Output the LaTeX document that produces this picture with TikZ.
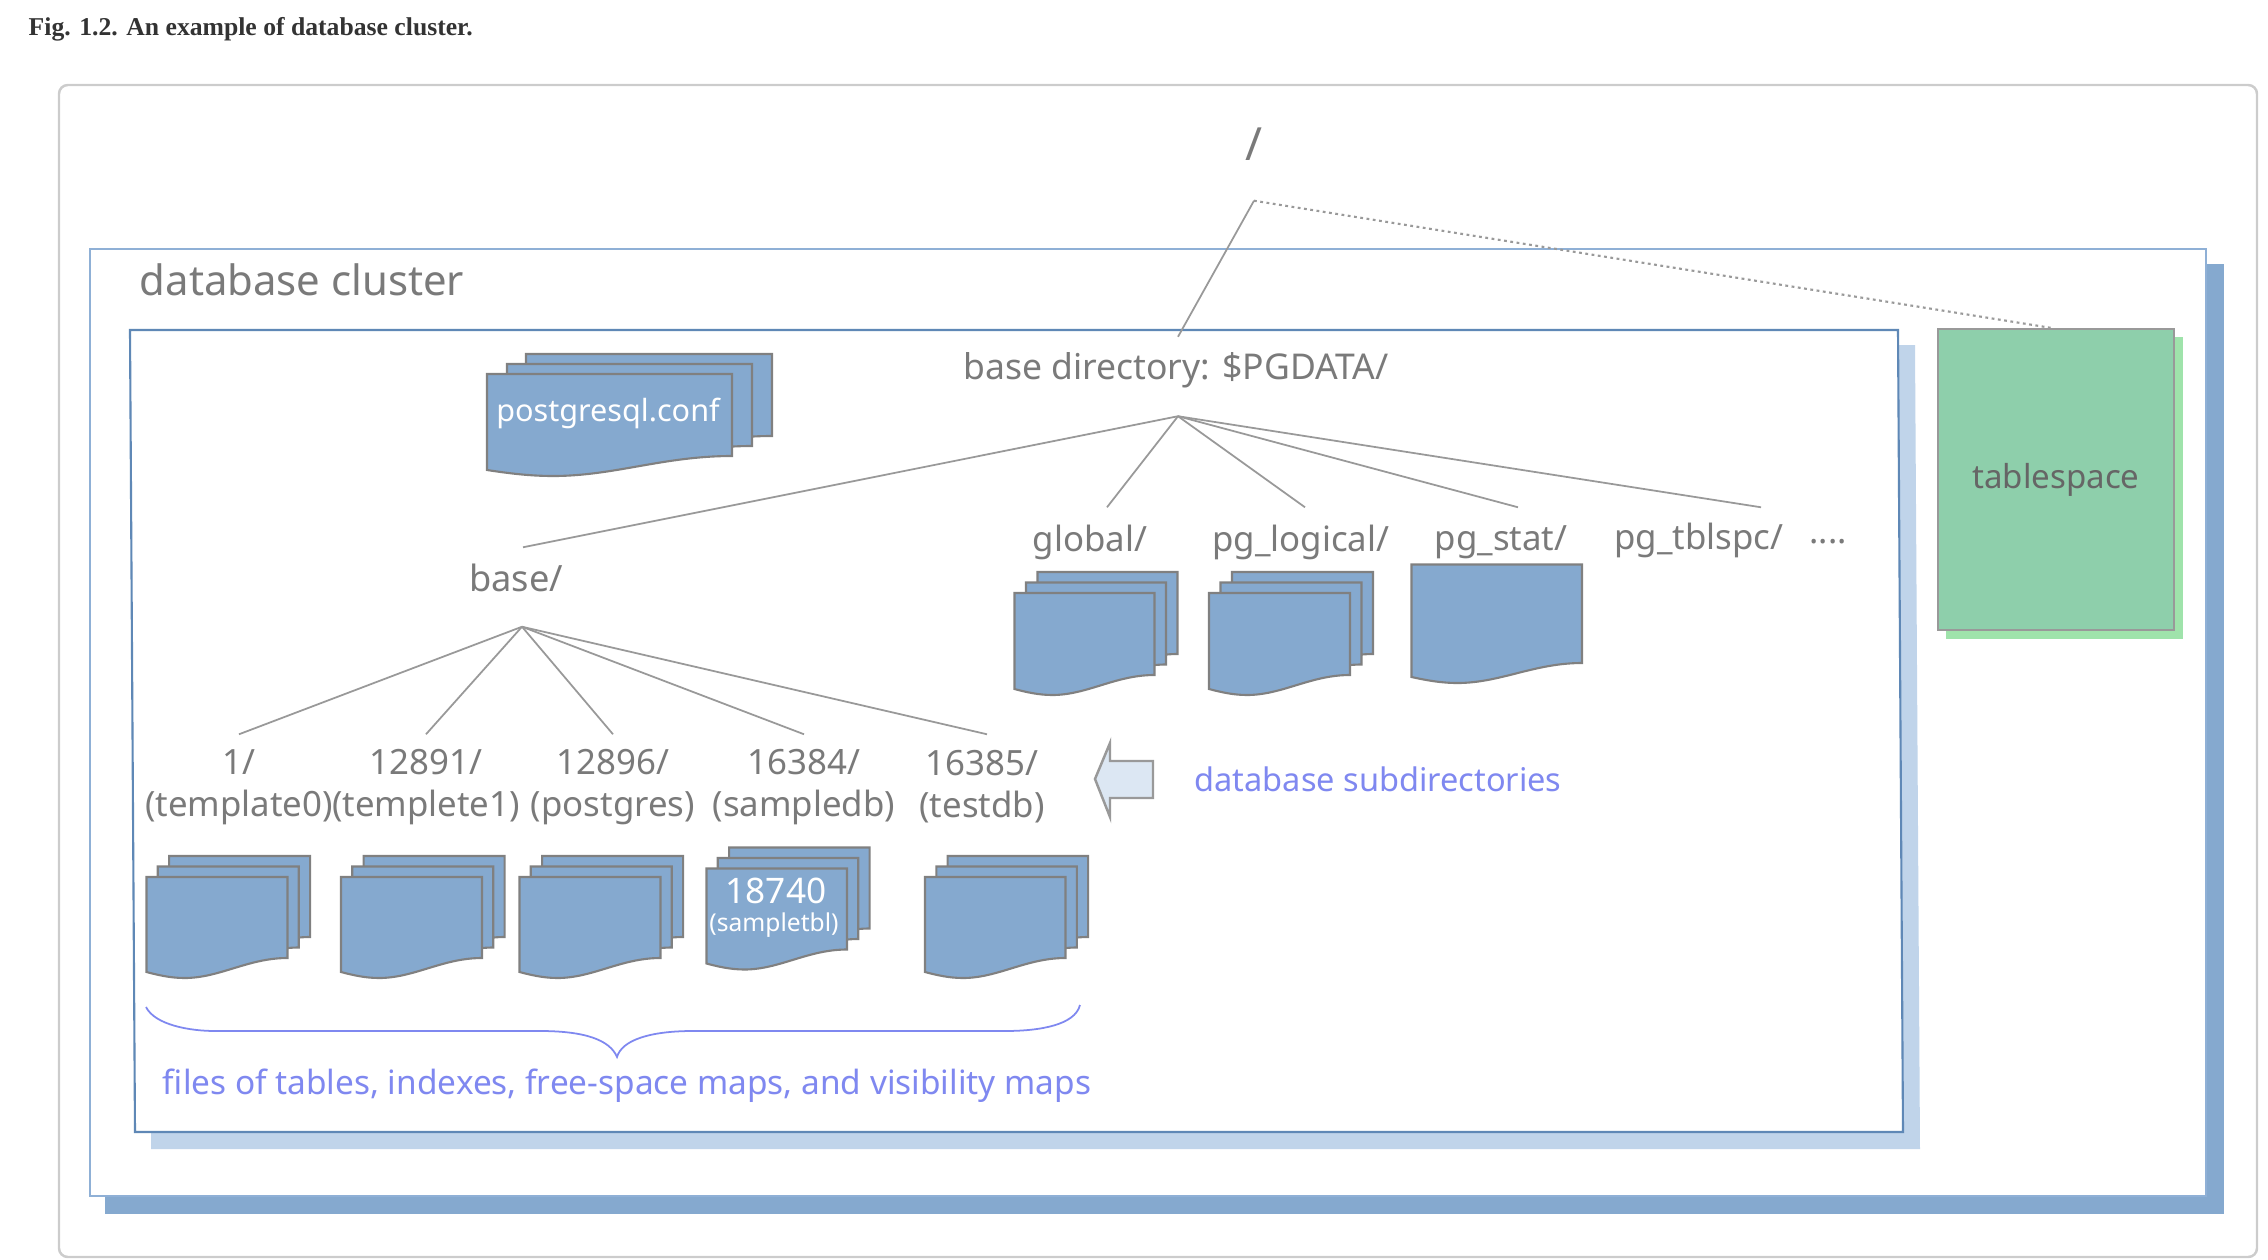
\documentclass[tikz,border=0pt]{standalone}
\usepackage{fontspec}
\setmainfont{Noto Sans}
\newfontfamily\captionfont{Liberation Serif}
\definecolor{sheetblue}{HTML}{85A9CF}
\definecolor{paleblue}{HTML}{C0D4EA}
\definecolor{clusterline}{HTML}{8FB0D6}
\definecolor{basedirline}{HTML}{5F88B6}
\definecolor{tablegreen}{HTML}{8ECFAB}
\definecolor{shadegreen}{HTML}{9FE3AB}
\definecolor{dirgray}{HTML}{7A7A7A}
\definecolor{notecolor}{HTML}{7F88F0}
\tikzset{
  treeline/.style={draw=black!40,line width=0.5pt},
  sheet/.style={draw=black!50,line width=0.6pt,fill=sheetblue},
  dirname/.style={text=dirgray,font=\fontsize{9.9}{12}\selectfont,inner sep=0pt,align=center},
  note/.style={text=notecolor,font=\fontsize{9.5}{12}\selectfont,inner sep=0pt},
  onsheet/.style={text=white,inner sep=0pt}
}
% one sheet: left, top, width, height
\newcommand{\sheetat}[4]{
  \draw[sheet,shift={(#1,#2)}] (0,0) -- (#3,0) -- (#3,#4)
    .. controls ({#3*0.72},#4) and ({#3*0.52},{#4+20}) .. ({#3*0.27},{#4+20})
    .. controls ({#3*0.17},{#4+20}) and ({#3*0.08},{#4+17}) .. (0,{#4+14}) -- cycle;
}
% three sheets: left, top of the front one, width, height, offset
\newcommand{\stackat}[5]{
  \sheetat{#1+2*#5}{#2-21}{#3}{#4}
  \sheetat{#1+#5}{#2-10.5}{#3}{#4}
  \sheetat{#1}{#2}{#3}{#4}
}
\begin{document}
\begin{tikzpicture}[x=0.01cm,y=-0.01cm]
  \useasboundingbox (0,0) rectangle (2268,1260);

  \node[inner sep=0pt,anchor=west,text=black!80,font=\captionfont\bfseries\fontsize{7.3}{9}\selectfont] (caption) at (28,29) {Fig. 1.2. An example of database cluster.};

  \draw[black!20,line width=0.7pt,rounded corners=2.5pt] (59,1257) -- (59,85) -- (2257,85) -- (2257,1257) -- cycle;

  % cluster with its shadow
  \fill[sheetblue] (105,264) rectangle (2224,1214);
  \draw[clusterline,line width=0.5pt,fill=white] (90,249) rectangle (2206,1196);
  \node[text=dirgray,font=\fontsize{11.9}{13}\selectfont,inner sep=0pt] (cluster) at (302,280) {database cluster};

  % base directory with its shadow
  \fill[paleblue] (151,345) -- (1915,345) -- (1920,1149) -- (151,1149) -- cycle;
  \draw[basedirline,line width=0.6pt,fill=white] (130,330) -- (1898,330) -- (1903,1132) -- (135,1132) -- cycle;

  % tablespace
  \fill[shadegreen] (1946,337) rectangle (2183,639);
  \node[draw=black!40,line width=0.6pt,fill=tablegreen,minimum width=2.36cm,minimum height=3.01cm,inner sep=0pt,text=black!60,font=\fontsize{9.4}{12}\selectfont] (tablespace) at (2056,479.5) {tablespace};

  \node[dirname,font=\fontsize{13}{13}\selectfont,anchor=base,text height=0.68cm,text depth=0.4cm] (root) at (1254,160) {/};
  \node[dirname,font=\fontsize{10.1}{12}\selectfont,anchor=base,text height=0.42cm,text depth=0.36cm] (pgdata) at (1176,379.5) {base directory: \$PGDATA/};
  \node[dirname,font=\fontsize{10.3}{12}\selectfont,anchor=base,text height=0.43cm,text depth=0.35cm] (base) at (516,591) {base/};
  \node[dirname,minimum height=0.68cm] (global) at (1090,542) {global/};
  \node[dirname,minimum height=0.68cm] (logical) at (1301,542) {pg\_logical/};
  \node[dirname,minimum height=0.68cm] (stat) at (1501,542) {pg\_stat/};
  \node[dirname,minimum height=0.64cm] (tblspc) at (1699,540) {pg\_tblspc/};
  \node[dirname] (more) at (1828,542) {....};

  \node[dirname,minimum height=1.04cm] (tmplzero) at (239,787) {1/\\(template0)};
  \node[dirname,minimum height=1.04cm] (tmplone) at (426,787) {12891/\\(templete1)};
  \node[dirname,minimum height=1.04cm] (postgres) at (613,787) {12896/\\(postgres)};
  \node[dirname,minimum height=1.04cm] (sampledb) at (804,787) {16384/\\(sampledb)};
  \node[dirname,minimum height=1.04cm] (testdb) at (982,787) {16385/\\(testdb)};

  \draw[treeline] (root.south) -- ([xshift=0.02cm]pgdata.north);
  \draw[treeline,line width=0.6pt,dash pattern=on 0.8pt off 1pt] (root.south) -- ([xshift=-0.05cm]tablespace.north);
  \draw[treeline] ([xshift=0.02cm]pgdata.south) -- ([xshift=0.07cm]base.north);
  \draw[treeline] ([xshift=0.02cm]pgdata.south) -- ([xshift=0.17cm]global.north);
  \draw[treeline] ([xshift=0.02cm]pgdata.south) -- ([xshift=0.04cm]logical.north);
  \draw[treeline] ([xshift=0.02cm]pgdata.south) -- ([xshift=0.17cm]stat.north);
  \draw[treeline] ([xshift=0.02cm]pgdata.south) -- ([xshift=0.62cm]tblspc.north);
  \draw[treeline] ([xshift=0.06cm]base.south) -- (tmplzero.north);
  \draw[treeline] ([xshift=0.06cm]base.south) -- (tmplone.north);
  \draw[treeline] ([xshift=0.06cm]base.south) -- (postgres.north);
  \draw[treeline] ([xshift=0.06cm]base.south) -- (sampledb.north);
  \draw[treeline] ([xshift=0.06cm]base.south) -- ([xshift=0.05cm]testdb.north);

  % files
  \sheetat{526}{354}{246}{82}
  \sheetat{507}{364}{245}{82}
  \sheetat{487}{374}{245}{82}
  \node[onsheet,font=\fontsize{8.7}{10}\selectfont] (conf) at (608,413) {postgresql.conf};
  \stackat{1014.5}{593}{140}{82}{11.5}
  \stackat{1209}{593}{141}{82}{11.5}
  \sheetat{1411.5}{564.5}{170.5}{98.5}
  \stackat{146.5}{877}{141}{81}{11.3}
  \stackat{341}{877}{141}{81}{11.3}
  \stackat{519.5}{877}{141}{81}{11.3}
  \stackat{706.5}{868.5}{140.5}{81}{11.3}
  \stackat{925}{877}{140.5}{81}{11.3}
  \node[onsheet,font=\fontsize{10}{10}\selectfont] (tbl) at (776,891) {18740};
  \node[onsheet,font=\fontsize{7}{8}\selectfont] (tblname) at (774,925) {(sampletbl)};

  % arrow and notes
  \draw[black!40,line width=0.7pt,fill=paleblue!55!white] (1095,779) -- (1110,743) -- (1110,761) -- (1153,761) -- (1153,798) -- (1110,798) -- (1110,817) -- cycle;
  \node[note,font=\fontsize{9.25}{12}\selectfont] (subdirs) at (1378,779) {database subdirectories};
  \draw[notecolor,line width=0.5pt] (146,1007) .. controls (155,1025) and (190,1031) .. (215,1031) -- (540,1031) .. controls (585,1031) and (610,1040) .. (617,1057) .. controls (622,1040) and (650,1031) .. (693,1031) -- (1005,1031) .. controls (1040,1031) and (1075,1025) .. (1080,1005);
  \node[note] (filesnote) at (627,1086) {files of tables, indexes, free-space maps, and visibility maps};
\end{tikzpicture}
\end{document}
